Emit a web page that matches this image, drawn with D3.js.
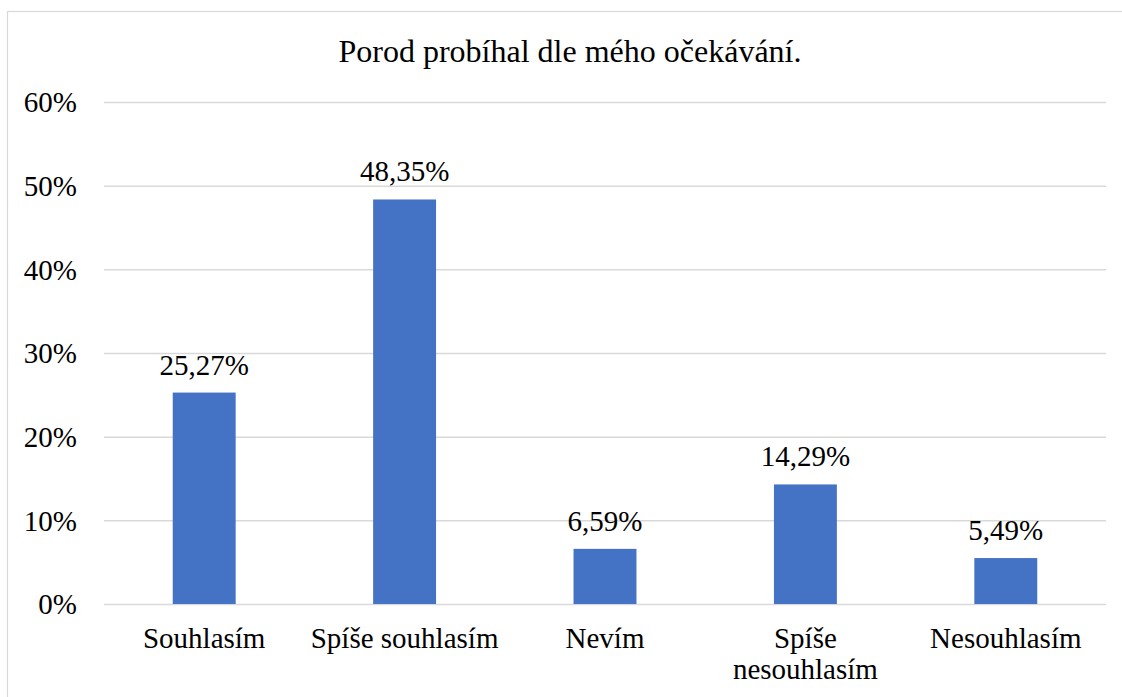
<!DOCTYPE html>
<html><head><meta charset="utf-8">
<script src="https://cdn.jsdelivr.net/npm/d3@7"></script>
<style>body{margin:0;background:#fff}svg{display:block}</style>
</head><body>
<script>
const categories = [["Souhlasím"], ["Spíše souhlasím"], ["Nevím"], ["Spíše", "nesouhlasím"], ["Nesouhlasím"]];
const values = [25.27, 48.35, 6.59, 14.29, 5.49];
const valueLabels = ["25,27%", "48,35%", "6,59%", "14,29%", "5,49%"];
const yTicks = [0, 10, 20, 30, 40, 50, 60];
const title = "Porod probíhal dle mého očekávání.";

(function () {
const W = 1122, H = 697;
const mLeft = 104, mRight = 1106, mTop = 102, mBottom = 604;
const font = '"Liberation Serif", "Times New Roman", serif';
const fs = "29px";

const svg = d3.select("body").append("svg").attr("width", W).attr("height", H);
svg.append("rect").attr("x", 7.5).attr("y", 11.5).attr("width", 1130).attr("height", 700)
  .attr("fill", "#fff").attr("stroke", "#d9d9d9").attr("stroke-width", 1.2);

const x = d3.scaleBand().domain(d3.range(values.length)).range([mLeft, mRight]).paddingInner(0.686).paddingOuter(0.343);
const y = d3.scaleLinear().domain([0, 60]).range([mBottom, mTop]);

svg.append("text").attr("x", 570).attr("y", 62).attr("text-anchor", "middle")
  .style("font-family", font).style("font-size", "32px").attr("fill", "#000").text(title);

const yAxis = d3.axisLeft(y).tickValues(yTicks).tickFormat(d => d + "%").tickSize(-(mRight - mLeft)).tickPadding(27);
const ga = svg.append("g").attr("transform", `translate(${mLeft},0)`).call(yAxis);
ga.attr("font-family", null).attr("font-size", null);
ga.select(".domain").remove();
ga.selectAll(".tick line").attr("stroke", "#d9d9d9").attr("stroke-width", 1.5);
ga.selectAll(".tick text").style("font-family", font).style("font-size", fs).attr("fill", "#000").attr("dy", "0.34em");

svg.selectAll("rect.bar").data(values).join("rect").attr("class", "bar")
  .attr("x", (d, i) => x(i)).attr("width", x.bandwidth())
  .attr("y", d => y(d)).attr("height", d => mBottom - y(d)).attr("fill", "#4472c4");

svg.selectAll("text.vl").data(values).join("text").attr("class", "vl")
  .attr("x", (d, i) => x(i) + x.bandwidth() / 2).attr("y", d => y(d) - 18)
  .attr("text-anchor", "middle").style("font-family", font).style("font-size", fs).attr("fill", "#000")
  .text((d, i) => valueLabels[i]);

const cg = svg.selectAll("text.cat").data(categories).join("text").attr("class", "cat")
  .attr("text-anchor", "middle").style("font-family", font).style("font-size", fs).attr("fill", "#000");
cg.each(function(lines, i) {
  const t = d3.select(this);
  lines.forEach((l, j) => {
    t.append("tspan").attr("x", x(i) + x.bandwidth() / 2).attr("y", 648 + j * 31).text(l);
  });
});
})();
</script>
</body></html>
